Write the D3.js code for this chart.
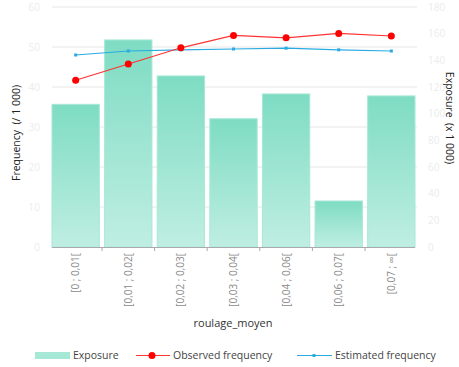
<!DOCTYPE html>
<html><head><meta charset="utf-8">
<script src="https://cdn.jsdelivr.net/npm/d3@7"></script>
<style>body{margin:0;background:#fff}svg{display:block;font-family:"Open Sans","Lato",sans-serif}</style>
</head><body><svg id="c" width="459" height="367"></svg>
<script>
const categories = ["[0 ; 0,01[", "[0,01 ; 0,02[", "[0,02 ; 0,03[", "[0,03 ; 0,04[", "[0,04 ; 0,06[", "[0,06 ; 0,07[", "[0,07 ; ∞["];
const exposure = [107, 155.3, 128.3, 96.2, 114.8, 34.5, 113.3];
const observed = [41.7, 45.75, 49.8, 52.9, 52.3, 53.4, 52.75];
const estimated = [48, 49, 49.3, 49.5, 49.7, 49.3, 49];
const leftTicks = [0, 10, 20, 30, 40, 50, 60];
const rightTicks = [0, 20, 40, 60, 80, 100, 120, 140, 160, 180];

const svg = d3.select("#c");
const L = 52, R = 415, T = 7, B = 247;
const x = d3.scaleBand().domain(categories).range([L, R]).paddingInner(0.1).paddingOuter(0);
const yL = d3.scaleLinear().domain([0, 60]).range([B, T]);
const yR = d3.scaleLinear().domain([0, 180]).range([B, T]);

const defs = svg.append("defs");
const g = defs.append("linearGradient").attr("id", "bg").attr("x1", 0).attr("y1", 0).attr("x2", 0).attr("y2", 1);
g.append("stop").attr("offset", "0%").attr("stop-color", "#7edcc3");
g.append("stop").attr("offset", "100%").attr("stop-color", "#bfeee2");

// grid
svg.append("g").selectAll("line").data(leftTicks.slice(1)).join("line")
  .attr("x1", L).attr("x2", R + 2).attr("y1", d => yL(d)).attr("y2", d => yL(d))
  .attr("stroke", "#e6e6e6").attr("stroke-width", 1);

// left tick labels
svg.append("g").selectAll("text").data(leftTicks).join("text")
  .attr("x", 40).attr("y", d => yL(d)).attr("dy", "0.35em").attr("text-anchor", "end")
  .attr("font-size", 10).attr("fill", "#ececec").text(d => d);
// right tick labels
svg.append("g").selectAll("text").data(rightTicks).join("text")
  .attr("x", 428).attr("y", d => yR(d)).attr("dy", "0.35em").attr("text-anchor", "start")
  .attr("font-size", 10).attr("fill", "#ececec").text(d => d);

// bars
svg.append("g").selectAll("rect").data(categories).join("rect")
  .attr("x", d => x(d)).attr("width", x.bandwidth())
  .attr("y", (d, i) => yR(exposure[i])).attr("height", (d, i) => B - yR(exposure[i]))
  .attr("fill", "url(#bg)").attr("stroke", "#a8e8d6").attr("stroke-width", 1);

// x axis
svg.append("line").attr("x1", L).attr("x2", R).attr("y1", B + 0.5).attr("y2", B + 0.5).attr("stroke", "#aaa");
const step = x.step();
svg.append("g").selectAll("line").data(categories.slice(1)).join("line")
  .attr("x1", d => x(d) - (step - x.bandwidth()) / 2).attr("x2", d => x(d) - (step - x.bandwidth()) / 2)
  .attr("y1", B).attr("y2", B + 4).attr("stroke", "#aaa");

svg.append("g").selectAll("text").data(categories).join("text")
  .attr("transform", d => `translate(${x(d) + x.bandwidth() / 2 + 3.5},253) rotate(-90)`)
  .attr("text-anchor", "end").attr("font-size", 10).attr("fill", "#8a8a8a").text(d => d);

// lines
const cx = d => x(d) + x.bandwidth() / 2;
const lineL = d3.line().x((d, i) => cx(categories[i])).y(d => yL(d));
svg.append("path").datum(estimated).attr("d", lineL).attr("fill", "none").attr("stroke", "#29abe2").attr("stroke-width", 1.2);
svg.append("g").selectAll("rect").data(estimated).join("rect")
  .attr("x", (d, i) => cx(categories[i]) - 1.5).attr("y", d => yL(d) - 1.5).attr("width", 3).attr("height", 3).attr("fill", "#29abe2");
svg.append("path").datum(observed).attr("d", lineL).attr("fill", "none").attr("stroke", "#ff3333").attr("stroke-width", 1.2);
svg.append("g").selectAll("circle").data(observed).join("circle")
  .attr("cx", (d, i) => cx(categories[i])).attr("cy", d => yL(d)).attr("r", 3.5).attr("fill", "#ff0000");

// axis titles
svg.append("text").attr("transform", "translate(20,133) rotate(-90)").attr("text-anchor", "middle")
  .attr("font-size", 10.5).attr("fill", "#222").attr("xml:space", "preserve").text("Frequency  (/ 1 000)");
svg.append("text").attr("transform", "translate(446,118) rotate(90)").attr("text-anchor", "middle")
  .attr("font-size", 10.5).attr("fill", "#222").attr("xml:space", "preserve").text("Exposure  (x 1 000)");
svg.append("text").attr("x", 233).attr("y", 327).attr("text-anchor", "middle")
  .attr("font-size", 11).attr("fill", "#333").text("roulage_moyen");

// legend
const lg = svg.append("g");
lg.append("rect").attr("x", 35).attr("y", 352).attr("width", 35).attr("height", 7).attr("fill", "#a6e8d6");
lg.append("text").attr("x", 73).attr("y", 359).attr("font-size", 10.5).attr("fill", "#444").text("Exposure");
lg.append("line").attr("x1", 136).attr("x2", 170).attr("y1", 355.5).attr("y2", 355.5).attr("stroke", "#ff3333").attr("stroke-width", 1.2);
lg.append("circle").attr("cx", 152).attr("cy", 355.5).attr("r", 3.5).attr("fill", "#ff0000");
lg.append("text").attr("x", 173).attr("y", 359).attr("font-size", 10.5).attr("fill", "#444").text("Observed frequency");
lg.append("line").attr("x1", 297).attr("x2", 332).attr("y1", 355.5).attr("y2", 355.5).attr("stroke", "#29abe2").attr("stroke-width", 1.2);
lg.append("rect").attr("x", 312.5).attr("y", 354).attr("width", 3).attr("height", 3).attr("fill", "#29abe2");
lg.append("text").attr("x", 335).attr("y", 359).attr("font-size", 10.5).attr("fill", "#444").text("Estimated frequency");
</script></body></html>
